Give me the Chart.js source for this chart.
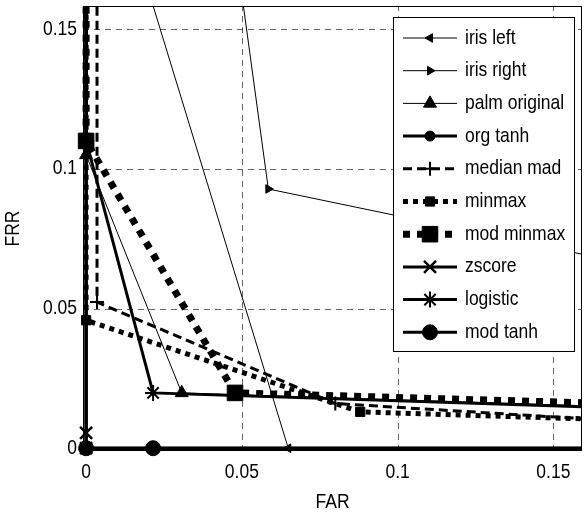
<!DOCTYPE html>
<html><head><meta charset="utf-8">
<script src="https://cdn.jsdelivr.net/npm/chart.js@4/dist/chart.umd.min.js"></script>
<style>html,body{margin:0;padding:0;background:#fff}#wrap{width:586px;height:514px}</style>
</head><body><div id="wrap"><canvas id="c" width="586" height="514"></canvas></div>
<script>
// ---- data ----
const seriesNames = ['iris left','iris right','palm original','org tanh','median mad','minmax','mod minmax','zscore','logistic','mod tanh'];
const irisLeftFAR = [0.0101, 0.0649, 0.3];
const irisLeftFRR = [0.2, 0, 0];
const irisRightFAR = [0.0454, 0.0585, 0.2];
const irisRightFRR = [0.2, 0.0928, 0.060];
const palmOriginalFAR = [0, 0, 0.0307, 0.25];
const palmOriginalFRR = [1, 0.105, 0.0198, 0.012];
const orgTanhFAR = [0, 0, 0.3];
const orgTanhFRR = [1, 0, 0];
const medianMadFAR = [0.0035, 0.0035, 0.08, 0.2];
const medianMadFRR = [1, 0.0523, 0.016, 0.0078];
const minmaxFAR = [0, 0, 0.088, 0.2];
const minmaxFRR = [1, 0.0458, 0.013, 0.0091];
const modMinmaxFAR = [0, 0, 0.0478, 0.2];
const modMinmaxFRR = [1, 0.11, 0.0198, 0.0150];
const zscoreFAR = [0, 0, 0, 0.3];
const zscoreFRR = [1, 0.0055, 0, 0];
const logisticFAR = [0, 0, 0.0215, 0.2];
const logisticFRR = [1, 0.11, 0.0198, 0.0134];
const modTanhFAR = [0, 0, 0.0215, 0.3];
const modTanhFRR = [1, 0, 0, 0];
const tickValues = [0, 0.05, 0.1, 0.15];
const tickLabels = ['0', '0.05', '0.1', '0.15'];
const xTitle = 'FAR';
const yTitle = 'FRR';

// ---- styles ----
const FONT = "'Liberation Sans', Arial, sans-serif";
const FSIZE = 17.5;
const VSTRETCH = 1.15;
const styles = [
  {w:1, dash:[], ps:'triangle', r:5, rot:-90, pbw:1},
  {w:1, dash:[], ps:'triangle', r:5, rot:90, pbw:1},
  {w:1, dash:[], ps:'triangle', r:7.5, rot:0, pbw:1},
  {w:3, dash:[], ps:'circle', r:5, rot:0, pbw:1},
  {w:3, dash:[9,5], ps:'cross', r:7, rot:0, pbw:2},
  {w:5, dash:[5,5], ps:'rect', r:6.5, rot:0, pbw:1},
  {w:7, dash:[7,7], ps:'rect', r:11, rot:0, pbw:1},
  {w:3, dash:[], ps:'crossRot', r:8.5, rot:0, pbw:2.5},
  {w:3, dash:[], ps:'star', r:8, rot:0, pbw:2},
  {w:3, dash:[], ps:'circle', r:7.5, rot:0, pbw:1}
];
const xs = [irisLeftFAR, irisRightFAR, palmOriginalFAR, orgTanhFAR, medianMadFAR, minmaxFAR, modMinmaxFAR, zscoreFAR, logisticFAR, modTanhFAR];
const ys = [irisLeftFRR, irisRightFRR, palmOriginalFRR, orgTanhFRR, medianMadFRR, minmaxFRR, modMinmaxFRR, zscoreFRR, logisticFRR, modTanhFRR];

const datasets = seriesNames.map((name, i) => ({
  label: name,
  data: xs[i].map((x, k) => ({x: x, y: ys[i][k]})),
  showLine: true,
  fill: false,
  tension: 0,
  borderColor: '#000',
  borderWidth: styles[i].w,
  borderDash: styles[i].dash,
  borderCapStyle: 'butt',
  pointStyle: styles[i].ps,
  pointRadius: styles[i].r,
  pointHoverRadius: styles[i].r,
  pointRotation: styles[i].rot,
  pointBackgroundColor: '#000',
  pointBorderColor: '#000',
  pointBorderWidth: styles[i].pbw,
  clip: {left: 12, top: 0, right: 0, bottom: 12},
  order: seriesNames.length - i
}));

function stretchedText(ctx, text, x, y, align, baseline, rot) {
  ctx.save();
  ctx.fillStyle = '#000';
  ctx.font = FSIZE + 'px ' + FONT;
  ctx.textAlign = align;
  ctx.textBaseline = baseline;
  ctx.translate(x, y);
  if (rot) ctx.rotate(rot);
  ctx.scale(1, VSTRETCH);
  ctx.fillText(text, 0, 0);
  ctx.restore();
}

const gridBox = {
  id: 'gridBox',
  beforeDatasetsDraw(chart) {
    const {ctx, chartArea: a, scales: {x, y}} = chart;
    ctx.save();
    ctx.strokeStyle = 'rgba(0,0,0,0.6)';
    ctx.lineWidth = 1;
    ctx.setLineDash([6, 5]);
    tickValues.forEach(v => {
      const px = Math.round(x.getPixelForValue(v)) + 0.5;
      ctx.beginPath(); ctx.moveTo(px, a.bottom); ctx.lineTo(px, a.top); ctx.stroke();
      const py = Math.round(y.getPixelForValue(v)) + 0.5;
      ctx.beginPath(); ctx.moveTo(a.left, py); ctx.lineTo(a.right, py); ctx.stroke();
    });
    ctx.restore();
  },
  afterDatasetsDraw(chart) {
    const {ctx, chartArea: a, scales: {x, y}} = chart;
    ctx.save();
    ctx.strokeStyle = '#000';
    ctx.lineWidth = 1;
    ctx.setLineDash([]);
    ctx.strokeRect(a.left + 0.5, a.top + 0.5, a.right - a.left - 1, a.bottom - a.top - 1);
    ctx.restore();
    x.ticks.forEach(t => stretchedText(ctx, tickLabels[tickValues.indexOf(t.value)], x.getPixelForValue(t.value), a.bottom + 21, 'center', 'middle'));
    y.ticks.forEach(t => stretchedText(ctx, tickLabels[tickValues.indexOf(t.value)], a.left - 6, y.getPixelForValue(t.value), 'right', 'middle'));
    stretchedText(ctx, xTitle, (a.left + a.right) / 2, 502, 'center', 'middle');
    stretchedText(ctx, yTitle, 13, (a.top + a.bottom) / 2, 'center', 'middle', -Math.PI / 2);
  }
};

const legendBox = {
  id: 'legendBox',
  afterDraw(chart) {
    const {ctx, chartArea: a} = chart;
    const right = a.right - 8, top = a.top + 11, w = 181, rowH = 32.7;
    const left = right - w;
    const n = chart.data.datasets.length;
    const h = rowH * n + 7;
    ctx.save();
    ctx.fillStyle = '#fff';
    ctx.fillRect(left, top, w, h);
    ctx.strokeStyle = '#000';
    ctx.lineWidth = 1;
    ctx.strokeRect(Math.round(left) + 0.5, Math.round(top) + 0.5, Math.round(w), Math.round(h));
    chart.data.datasets.forEach((ds, i) => {
      const cy = top + 21 + i * rowH;
      const x0 = left + 10, x1 = left + 64, mx = (x0 + x1) / 2;
      ctx.save();
      ctx.strokeStyle = '#000';
      ctx.lineWidth = ds.borderWidth;
      ctx.setLineDash(ds.borderDash);
      ctx.lineCap = 'butt';
      ctx.beginPath(); ctx.moveTo(x0, cy); ctx.lineTo(x1, cy); ctx.stroke();
      ctx.restore();
      ctx.save();
      ctx.fillStyle = '#000';
      ctx.strokeStyle = '#000';
      ctx.lineWidth = ds.pointBorderWidth;
      ctx.setLineDash([]);
      Chart.helpers.drawPoint(ctx, {pointStyle: ds.pointStyle, rotation: ds.pointRotation, radius: ds.pointRadius, borderWidth: ds.pointBorderWidth}, mx, cy);
      ctx.restore();
      stretchedText(ctx, ds.label, left + 72, cy, 'left', 'middle');
    });
    ctx.restore();
  }
};

Chart.defaults.font.family = FONT;
Chart.defaults.color = '#000';

new Chart(document.getElementById('c'), {
  type: 'scatter',
  data: {datasets: datasets},
  options: {
    responsive: false,
    devicePixelRatio: 1,
    animation: false,
    events: [],
    layout: {autoPadding: false, padding: {left: 0, top: 6, right: 4, bottom: 0}},
    plugins: {legend: {display: false}, tooltip: {enabled: false}},
    scales: {
      x: {
        type: 'linear', min: -0.001, max: 0.1592,
        afterBuildTicks: s => { s.ticks = tickValues.map(v => ({value: v})); },
        afterFit: s => { s.height = 63; s.paddingLeft = 0; s.paddingRight = 0; },
        grid: {display: false, drawTicks: false},
        border: {display: false},
        ticks: {display: false, autoSkip: false, maxRotation: 0},
        title: {display: false, text: xTitle}
      },
      y: {
        type: 'linear', min: -0.001, max: 0.1583,
        afterBuildTicks: s => { s.ticks = tickValues.map(v => ({value: v})); },
        afterFit: s => { s.width = 83; s.paddingTop = 0; s.paddingBottom = 0; },
        grid: {display: false, drawTicks: false},
        border: {display: false},
        ticks: {display: false, autoSkip: false},
        title: {display: false, text: yTitle}
      }
    }
  },
  plugins: [gridBox, legendBox]
});
</script>
</body></html>
